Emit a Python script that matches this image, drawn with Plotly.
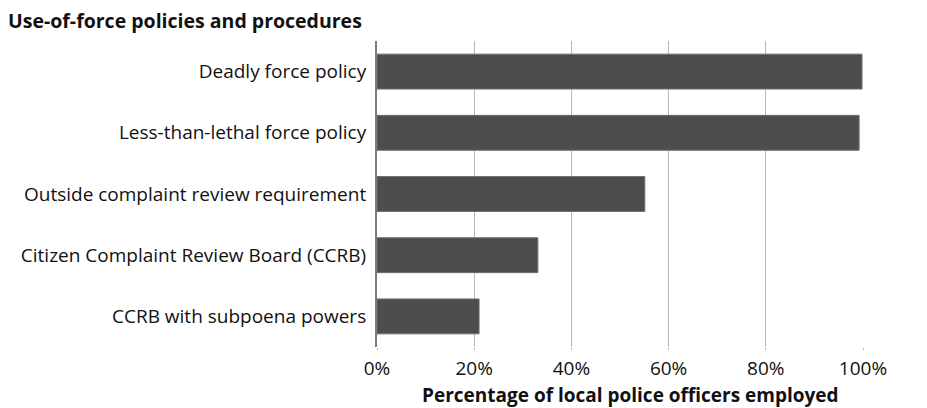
import plotly.graph_objects as go

categories = [
    "Deadly force policy",
    "Less-than-lethal force policy",
    "Outside complaint review requirement",
    "Citizen Complaint Review Board (CCRB)",
    "CCRB with subpoena powers",
]
values = [99.8, 99.2, 55.1, 33.1, 21.0]
tick_vals = [0, 20, 40, 60, 80, 100]
tick_text = ["0%", "20%", "40%", "60%", "80%", "100%"]
x_title = "Percentage of local police officers employed"

FONT = "'Open Sans', sans-serif"

fig = go.Figure(go.Bar(
    x=values,
    y=categories,
    orientation="h",
    marker=dict(color="#4d4d4d", line=dict(color="#6f6f6f", width=1)),
    width=0.57,
))

# page has an 8px body margin; figure is offset accordingly
fig.update_layout(
    width=919, height=408,
    margin=dict(l=369, r=64, t=33, b=69, autoexpand=False),
    paper_bgcolor="white", plot_bgcolor="white",
    showlegend=False,
    font=dict(family=FONT, size=19, color="#111111"),
    title=dict(text="<b>Use-of-force policies and procedures</b>",
               x=0.0, xanchor="left", y=1 - 13.5 / 408, yanchor="middle",
               font=dict(family=FONT, size=19.5, color="#111111"),
               automargin=False),
    annotations=[dict(
        text="<b>" + x_title + "</b>", xref="paper", yref="paper",
        x=0.521, y=-0.158, xanchor="center", yanchor="middle",
        showarrow=False, font=dict(family=FONT, size=19, color="#111111"),
    )],
)
fig.update_xaxes(
    range=[0, 100], tickvals=tick_vals, ticktext=tick_text,
    showgrid=True, gridcolor="#b8b8b8", gridwidth=1,
    ticks="outside", ticklen=2, tickcolor="#b8b8b8",
    ticklabelstandoff=2,
    zeroline=False, showline=False,
    tickfont=dict(size=19, color="#111111"),
    automargin=False,
    fixedrange=True,
)
fig.update_yaxes(
    categoryorder="array", categoryarray=categories, autorange="reversed",
    showline=True, linecolor="#7a7a7a", linewidth=2,
    ticks="", ticklabelstandoff=5,
    tickfont=dict(size=19, color="#111111"),
    showgrid=False,
    automargin=False,
    fixedrange=True,
)

fig.write_html("out.html")
